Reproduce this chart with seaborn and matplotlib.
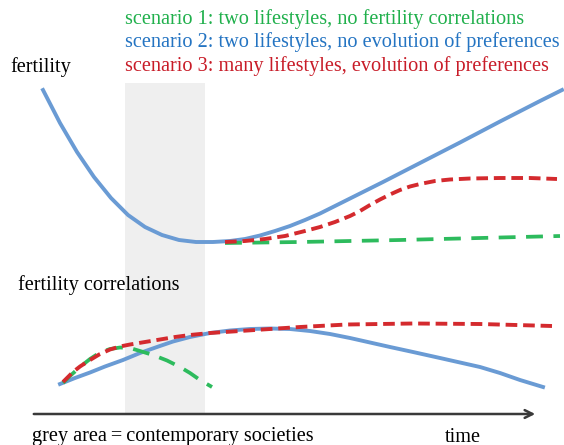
import pandas as pd
import seaborn as sns
import matplotlib.pyplot as plt

# schematic values (x = time, y = height on the sketch, pixel-like units)
# upper panel: fertility
fert_blue_x = [43, 60, 77, 94, 111, 128, 145, 162, 179, 196, 213, 230, 245, 260, 275, 290, 305, 320, 335,
               350, 365, 383, 420, 460, 500, 540, 562]
fert_blue_y = [90, 123, 152, 177, 198, 215, 227, 235, 240, 242, 242, 241, 239, 235.5, 231, 226, 220, 213.5,
               206, 198.5, 191, 182, 163, 142.5, 121.5, 101, 90]
fert_red_x = [225, 245, 265, 285, 305, 320, 335, 350, 360, 370, 380, 390, 400, 410, 420, 435, 450, 470,
              500, 530, 557]
fert_red_y = [242, 241, 239, 236, 231, 227, 222, 216, 211, 205, 199.5, 194.5, 190, 186.5, 184, 181, 179.5,
              178.5, 178, 178, 179]
fert_green_x = [225, 300, 400, 480, 560]
fert_green_y = [243, 242, 240, 238, 236]

# lower panel: fertility correlations
corr_blue_x = [60, 75, 90, 105, 123, 140, 157, 173, 190, 210, 230, 250, 270, 290, 310, 330, 350, 370,
               390, 413, 440, 460, 480, 500, 520, 543]
corr_blue_y = [384, 378, 372.5, 366.5, 360, 353, 347, 341.5, 337, 333, 330.5, 329, 328.5, 329, 331, 334,
               338, 342.5, 347, 352, 358, 362.5, 367, 373, 380, 387]
corr_red_x = [63, 68, 73, 80, 90, 100, 110, 120, 130, 145, 157, 175, 190, 210, 240, 270, 300, 347, 413,
              480, 552]
corr_red_y = [382, 377, 372, 366.5, 360, 354, 349.5, 346.5, 344.5, 342, 340, 337, 335, 333, 331, 329,
              327, 324.5, 323.5, 324, 326]
corr_green_x = [63, 70, 80, 90, 100, 110, 120, 130, 140, 153, 167, 180, 190, 200, 212]
corr_green_y = [383, 376, 367, 359, 352.5, 349, 347.5, 348, 351, 355, 360.5, 367, 373, 380, 387]

grey_area = [125, 205]
axis_y = 414

scenarios = ["scenario 1: two lifestyles, no fertility correlations",
             "scenario 2: two lifestyles, no evolution of preferences",
             "scenario 3: many lifestyles, evolution of preferences"]

c_blue = "#6a9bd4"
c_red = "#d42a2e"
c_green = "#2dbb5d"
text_cols = ["#20b04c", "#2474c2", "#c81c28"]

plt.rcParams['font.family'] = ['Liberation Serif', 'DejaVu Serif']
fig = plt.figure(figsize=(5.64, 4.45), dpi=100)
ax = fig.add_axes([0, 0, 1, 1])

ax.axvspan(grey_area[0], grey_area[1], ymin=(445 - axis_y) / 445, ymax=(445 - 83) / 445,
           color="#efefef", zorder=0, lw=0)

solid = dict(color=c_blue, linewidth=2.8, estimator=None, sort=False, solid_joinstyle="round")
red_kw = dict(color=c_red, linewidth=2.8, linestyle=(0, (3, 1.5)), estimator=None, sort=False)
green_kw = dict(color=c_green, linewidth=2.7, linestyle=(0, (4.5, 2.8)), estimator=None, sort=False)

sns.lineplot(x=fert_blue_x, y=fert_blue_y, ax=ax, **solid)
sns.lineplot(x=fert_green_x, y=fert_green_y, ax=ax, **green_kw)
sns.lineplot(x=fert_red_x, y=fert_red_y, ax=ax, **red_kw)

sns.lineplot(x=corr_blue_x, y=corr_blue_y, ax=ax, **solid)
sns.lineplot(x=corr_green_x, y=corr_green_y, ax=ax, **green_kw)
sns.lineplot(x=corr_red_x, y=corr_red_y, ax=ax, **red_kw)

# time axis arrow
ax.annotate("", xy=(538, axis_y), xytext=(31, axis_y),
            arrowprops=dict(arrowstyle="->", color="#3a3a3a", lw=1.8, mutation_scale=14))

fs = 14.6
for i, (s, c) in enumerate(zip(scenarios, text_cols)):
    ax.text(125, 19 + i * 23.5, s, color=c, fontsize=fs, va="center", ha="left")
ax.text(10, 67, "fertility", fontsize=fs, va="center")
ax.text(18, 285, "fertility correlations", fontsize=fs, va="center")
ax.text(32, 437, "grey area\u2009=\u2009contemporary societies", fontsize=fs, va="center")
ax.text(445, 437, "time", fontsize=fs, va="center")

ax.set_xlim(0, 564)
ax.set_ylim(445, 0)
ax.axis("off")
fig.savefig("out.png", dpi=100)
